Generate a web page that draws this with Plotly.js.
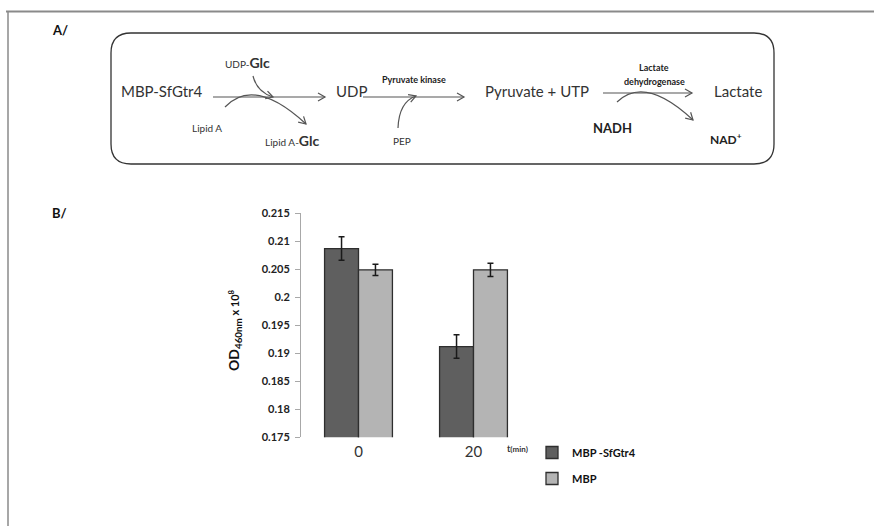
<!DOCTYPE html>
<html>
<head>
<meta charset="utf-8">
<script src="https://cdn.plot.ly/plotly-3.0.1.min.js"></script>
<style>html,body{margin:0;padding:0;background:#fff;}#chart{width:874px;height:526px;}</style>
</head>
<body>
<div id="chart"></div>
<script>
// ---- data ----
var timePoints = ['0', '20'];
var seriesNames = ['MBP -SfGtr4', 'MBP'];
var mbpSfGtr4 = [0.2087, 0.1912];
var mbpSfGtr4Err = [0.0021, 0.0021];
var mbp = [0.2049, 0.2049];
var mbpErr = [0.0010, 0.0012];
var yTickVals = [0.175, 0.18, 0.185, 0.19, 0.195, 0.2, 0.205, 0.21, 0.215];
var yTickText = ['0.175', '0.18', '0.185', '0.19', '0.195', '0.2', '0.205', '0.21', '0.215'];

var W = 874, H = 526;
var FONT = 'Lato, "Open Sans", sans-serif';
var LINE = '#555';

function chevron(x, y, dx, dy) {
  var L = Math.sqrt(dx*dx + dy*dy); dx /= L; dy /= L;
  var len = 7, half = 4;
  var bx = x - dx*len, by = y - dy*len;
  var px = -dy*half, py = dx*half;
  return 'M' + (bx+px) + ',' + (by+py) + ' L' + x + ',' + y + ' L' + (bx-px) + ',' + (by-py);
}
function curve(p0, c, p2) {
  return 'M' + p0[0] + ',' + p0[1] + ' Q' + c[0] + ',' + c[1] + ' ' + p2[0] + ',' + p2[1];
}
function pathShape(d, color, w) {
  return {type: 'path', xref: 'x2', yref: 'y2', path: d, line: {color: color || LINE, width: w || 1.2}};
}

var shapes = [];
// outer frame lines
shapes.push({type: 'line', xref: 'x2', yref: 'y2', x0: 6, x1: 874, y0: 11.5, y1: 11.5, line: {color: '#8a8a8a', width: 2}});
shapes.push({type: 'line', xref: 'x2', yref: 'y2', x0: 8, x1: 8, y0: 11, y1: 526, line: {color: '#8a8a8a', width: 1.5}});
// rounded rectangle of the scheme
shapes.push(pathShape('M131,33 H754 Q774,33 774,53 V144 Q774,164 754,164 H131 Q111,164 111,144 V53 Q111,33 131,33 Z', '#333', 1.3));
// straight arrows
shapes.push(pathShape('M213,97 L325,97')); shapes.push(pathShape(chevron(325, 97, 1, 0)));
shapes.push(pathShape('M363,97 L464,97')); shapes.push(pathShape(chevron(464, 97, 1, 0)));
shapes.push(pathShape('M603,93 L692,93')); shapes.push(pathShape(chevron(692, 93, 1, 0)));
// curved arrows
shapes.push(pathShape(curve([253,76],[257,92],[273,97]))); shapes.push(pathShape(chevron(273, 97, 16, 5)));
shapes.push(pathShape(curve([225,107],[254,76],[306,124]))); shapes.push(pathShape(chevron(306, 124, 52, 48)));
shapes.push(pathShape(curve([398,128],[399,102],[416,96]))); shapes.push(pathShape(chevron(416, 96, 17, -6)));
shapes.push(pathShape(curve([617,102],[645,75],[693,120]))); shapes.push(pathShape(chevron(693, 120, 48, 45)));

function txt(text, x, y, size, opts) {
  opts = opts || {};
  return {xref: 'x2', yref: 'y2', x: x, y: y, text: text, showarrow: false,
    xanchor: opts.xa || 'left', yanchor: 'middle', textangle: opts.angle || 0,
    font: {family: FONT, size: size, color: opts.color || '#333', weight: opts.bold ? 'bold' : 'normal'}};
}
var annotations = [
  txt('<b>A/</b>', 50, 30, 13, {bold: true, color: '#111'}),
  txt('<b>B/</b>', 50, 213, 13, {bold: true, color: '#111'}),
  txt('MBP-SfGtr4', 119, 91, 15),
  txt('UDP-<span style="font-size:14px"><b>Glc</b></span>', 223, 62, 10),
  txt('Lipid A', 207, 128, 10, {xa: 'center'}),
  txt('Lipid A-<span style="font-size:14px"><b>Glc</b></span>', 263, 140, 10),
  txt('UDP', 334, 91, 15),
  txt('<b>Pyruvate kinase</b>', 414, 79, 9, {xa: 'center', bold: true, color: '#222'}),
  txt('PEP', 402, 141, 10, {xa: 'center'}),
  txt('Pyruvate + UTP', 483, 91, 15),
  txt('<b>Lactate</b>', 654, 67, 9, {xa: 'center', bold: true, color: '#222'}),
  txt('<b>dehydrogenase</b>', 654, 81, 9, {xa: 'center', bold: true, color: '#222'}),
  txt('<b>NADH</b>', 612, 128, 13, {xa: 'center', bold: true, color: '#222'}),
  txt('Lactate', 712, 91, 15),
  txt('<b>NAD<sup>+</sup></b>', 708, 139, 12, {bold: true, color: '#222'}),
  txt('<b>OD<sub>460nm</sub></b><span style="font-size:11px"><b> x 10<sup>8</sup></b></span>', 234, 330, 14, {xa: 'center', angle: -90, color: '#111'}),
  txt('<b>t</b><span style="font-size:8px"><b>(min)</b></span>', 505, 448, 9, {bold: true, color: '#333'})
];

var traces = [
  {type: 'bar', name: '<b>' + seriesNames[0] + '</b>', x: timePoints, y: mbpSfGtr4,
   marker: {color: '#5f5f5f', line: {color: '#2e2e2e', width: 1.3}},
   error_y: {type: 'data', array: mbpSfGtr4Err, visible: true, color: '#1a1a1a', thickness: 1.5, width: 3},
   legendgroup: 'a'},
  {type: 'bar', name: '<b>' + seriesNames[1] + '</b>', x: timePoints, y: mbp,
   marker: {color: '#b4b4b4', line: {color: '#2e2e2e', width: 1.3}},
   error_y: {type: 'data', array: mbpErr, visible: true, color: '#1a1a1a', thickness: 1.5, width: 3},
   legendgroup: 'b'},
  {type: 'scatter', x: [], y: [], xaxis: 'x2', yaxis: 'y2', showlegend: false, hoverinfo: 'skip'}
];

var layout = {
  width: W, height: H,
  margin: {l: 0, r: 0, t: 0, b: 0},
  paper_bgcolor: '#ffffff', plot_bgcolor: 'rgba(0,0,0,0)',
  barmode: 'group', bargap: 0.41, bargroupgap: 0,
  showlegend: true,
  legend: {x: 532 / W, xanchor: 'left', y: (H - 438) / H, yanchor: 'top',
    font: {family: FONT, size: 11, color: '#111', weight: 'bold'},
    bgcolor: 'rgba(0,0,0,0)', tracegroupgap: 7, itemwidth: 30},
  xaxis: {domain: [301 / W, 531 / W], type: 'category', showline: false, showgrid: false, zeroline: false,
    ticks: '', tickfont: {family: FONT, size: 15, color: '#333'}, ticklabelstandoff: 4, fixedrange: true},
  yaxis: {domain: [(H - 437.3) / H, (H - 213.3) / H], range: [0.175, 0.215], showline: true, linecolor: '#a8a8a8',
    linewidth: 1, showgrid: false, zeroline: false, ticks: 'outside', ticklen: 5, tickcolor: '#a8a8a8',
    tickvals: yTickVals, ticktext: yTickText, tickfont: {family: FONT, size: 11, color: '#222', weight: 'bold'},
    ticklabelstandoff: 3, fixedrange: true},
  xaxis2: {domain: [0, 1], range: [0, W], visible: false, anchor: 'y2', fixedrange: true},
  yaxis2: {domain: [0, 1], range: [H, 0], visible: false, anchor: 'x2', fixedrange: true},
  shapes: shapes,
  annotations: annotations
};

Plotly.newPlot('chart', traces, layout, {displayModeBar: false, staticPlot: true});
</script>
</body>
</html>
